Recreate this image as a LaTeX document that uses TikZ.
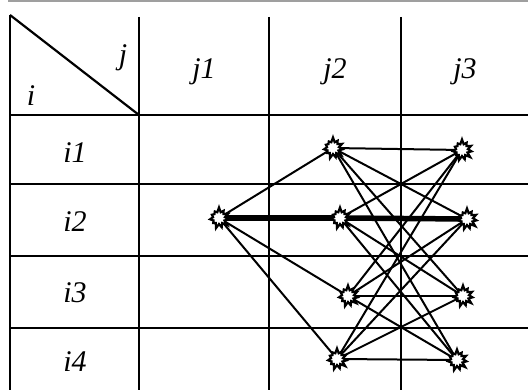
\documentclass[tikz,border=0pt]{standalone}
\usepackage{fontspec}
\setmainfont{Liberation Serif}
\usetikzlibrary{shapes.symbols,backgrounds}
\tikzset{
  grid/.style={line width=2.6pt, black},
  burst/.style={starburst, draw, fill=white, line width=2.2pt, minimum width=22pt, minimum height=22pt, starburst points=11, starburst point height=5pt, inner sep=0pt, random starburst=7},
  edge/.style={line width=2pt},
  heavy/.style={line width=5.5pt},
  lab/.style={font=\fontsize{30}{30}\selectfont\itshape, inner sep=0pt},
}
\begin{document}
\begin{tikzpicture}[x=1pt,y=-1pt]
\useasboundingbox (0,0) rectangle (528,390);
% top grey rule
\draw[gray!75, line width=1.8pt] (8,1) -- (528,1);
% table
\draw[grid] (10,15) -- (10,390);
\foreach \x in {139,269,401} \draw[grid] (\x,17) -- (\x,390);
\foreach \y in {115,184,256,328} \draw[grid] (10,\y) -- (528,\y);
\draw[line width=2.2pt] (10,15) -- (139,115);
% labels
\node[lab] (li) at (31,96) {i};
\node[lab] (lj) at (123,58) {j};
\node[lab] (hj1) at (204,72) {j1};
\node[lab] (hj2) at (335,72) {j2};
\node[lab] (hj3) at (465,72) {j3};
\node[lab] (ri1) at (75,153) {i1};
\node[lab] (ri2) at (75,222) {i2};
\node[lab] (ri3) at (75,293) {i3};
\node[lab] (ri4) at (75,362) {i4};
% bursts
\node[burst] (a) at (219,218) {};
\node[burst] (b1) at (333,148) {};
\node[burst] (b2) at (340,218) {};
\node[burst] (b3) at (348,296) {};
\node[burst] (b4) at (337,359) {};
\node[burst] (c1) at (462,150) {};
\node[burst] (c2) at (467,219) {};
\node[burst] (c3) at (463,296) {};
\node[burst] (c4) at (457,360) {};
\begin{pgfonlayer}{background}
\foreach \n in {b1,b3,b4} \draw[edge] (a.center) -- (\n.center);
\draw[heavy] (a.center) -- (b2.center);
\draw[heavy] (b2.center) -- (c2.center);
\foreach \s in {b1,b2,b3,b4}
  \foreach \t in {c1,c2,c3,c4}
    \draw[edge] (\s.center) -- (\t.center);
\end{pgfonlayer}
\end{tikzpicture}
\end{document}
